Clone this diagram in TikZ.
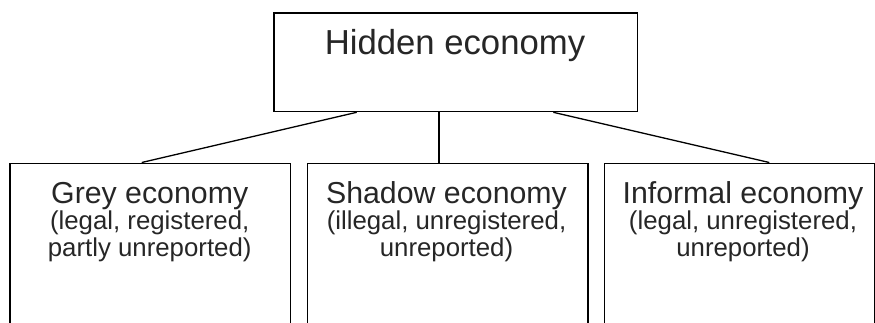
\documentclass[tikz,border=0pt]{standalone}
\usepackage{fontspec}
\setmainfont{Liberation Sans}
\usetikzlibrary{positioning, calc}

\begin{document}
\begin{tikzpicture}[x=1pt, y=-1pt,
  econbox/.style={draw, line width=1.3pt, anchor=north west, inner sep=0pt,
    minimum width=280.7pt, minimum height=220pt},
  econtitle/.style={anchor=base, inner sep=0pt, text=black!85,
    font=\fontsize{30.3}{32}\selectfont},
  econnote/.style={anchor=base, inner sep=0pt, align=center, text=black!85,
    font=\fontsize{25.8}{26.7}\selectfont},
  link/.style={line width=1.3pt}]
  \useasboundingbox (0,0) rectangle (875,322);
  \clip (0,0) rectangle (875,322);
  % Top box
  \node[econbox, minimum width=363.4pt, minimum height=98.7pt] (hidden) at (273.3,12.3) {};
  \node[econtitle, font=\fontsize{34.7}{36}\selectfont] (hiddentitle) at (455,54.3) {Hidden economy};
  % Bottom boxes
  \node[econbox] (grey) at (9.3,162.5) {};
  \node[econbox] (shadow) at (306.7,162.5) {};
  \node[econbox, minimum width=269.5pt] (informal) at (604,162.5) {};
  % Texts (base of a note = its last line)
  \node[econtitle] (greytitle) at (149.7,203.3) {Grey economy};
  \node[econnote] (greynote) at (149.7,256) {(legal, registered,\\partly unreported)};
  \node[econtitle] (shadowtitle) at (446.5,203.3) {Shadow economy};
  \node[econnote] (shadownote) at (446.5,256) {(illegal, unregistered,\\unreported)};
  \node[econtitle] (informaltitle) at (743,203.3) {Informal economy};
  \node[econnote] (informalnote) at (743,256) {(legal, unregistered,\\unreported)};
  % Links
  \draw[link] ($(hidden.south west)+(83.4,0)$) -- ($(grey.north west)+(132.4,0)$);
  \draw[link] ($(hidden.south west)+(165.7,0)$) -- ($(shadow.north west)+(132.3,0)$);
  \draw[link] ($(hidden.south west)+(280,0)$) -- ($(informal.north west)+(165.3,0)$);
\end{tikzpicture}
\end{document}
